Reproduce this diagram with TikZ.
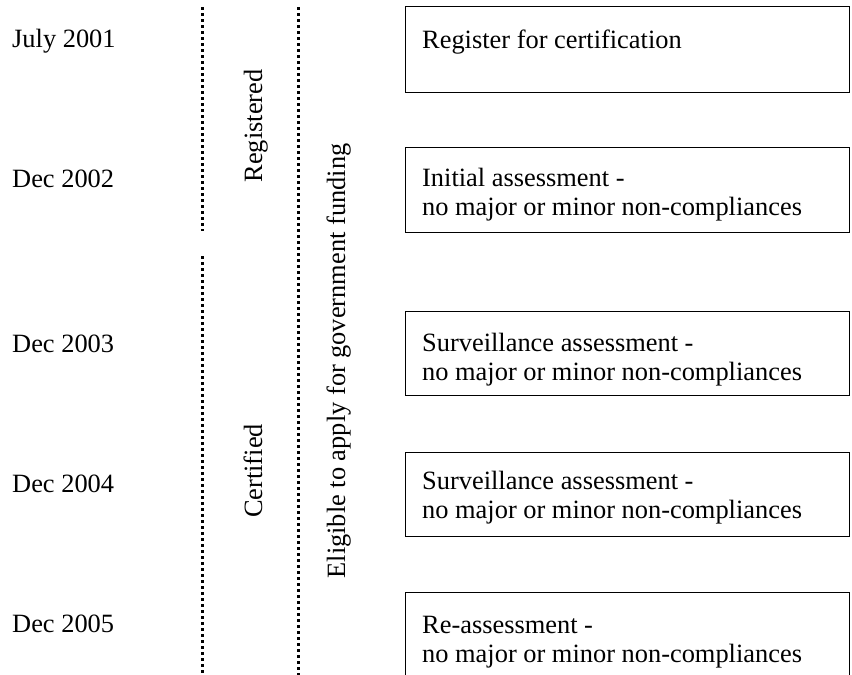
\documentclass[tikz,border=0pt]{standalone}
\usepackage{fontspec}
\setmainfont{Liberation Serif}
\usetikzlibrary{positioning}
\tikzset{
    stagebox/.style={rectangle, draw=black, line width=1.2pt, minimum width=444pt, inner sep=0pt, anchor=north west},
    stagetext/.style={anchor=base west, align=left, inner sep=0pt},
    datelabel/.style={anchor=base west, inner sep=0pt},
    phaselabel/.style={anchor=base, rotate=90, inner sep=0pt},
    dotline/.style={line width=3pt, dash pattern=on 3pt off 3pt}
}

\begin{document}
\begin{tikzpicture}[x=1pt, y=-1pt, font=\fontsize{26.4}{28.5}\selectfont]
    \clip (0,0) rectangle (852,675);

    % dates
    \node (d2001) [datelabel] at (12,47) {July 2001};
    \node (d2002) [datelabel] at (12,187) {Dec 2002};
    \node (d2003) [datelabel] at (12,352) {Dec 2003};
    \node (d2004) [datelabel] at (12,492) {Dec 2004};
    \node (d2005) [datelabel] at (12,632) {Dec 2005};

    % phase lines
    \coordinate (regtop) at (202,7);
    \coordinate (regend) at (202,231);
    \coordinate (certtop) at (202,256);
    \coordinate (certend) at (202,676);
    \coordinate (fundtop) at (298,7);
    \coordinate (fundend) at (298,676);
    \draw [dotline] (regtop) -- (regend);
    \draw [dotline] (certtop) -- (certend);
    \draw [dotline] (fundtop) -- (fundend);

    \node (registered) [phaselabel] at (262,126) {Registered};
    \node (certified) [phaselabel] at (262,471) {Certified};
    \node (funding) [phaselabel] at (345,361) {Eligible to apply for government funding};

    % stages (second line sets the base of two-line texts)
    \node (regbox) [stagebox, minimum height=86pt] at (405,6) {};
    \node (initbox) [stagebox, minimum height=85pt] at (405,147) {};
    \node (surv1box) [stagebox, minimum height=84pt] at (405,311) {};
    \node (surv2box) [stagebox, minimum height=84pt] at (405,452) {};
    \node (reassbox) [stagebox, minimum height=86pt] at (405,592) {};

    \node (regtext) [stagetext] at ([xshift=17pt, yshift=-42pt]regbox.north west) {Register for certification};
    \node (inittext) [stagetext] at ([xshift=17pt, yshift=-68pt]initbox.north west) {Initial assessment -\\no major or minor non-compliances};
    \node (surv1text) [stagetext] at ([xshift=17pt, yshift=-69pt]surv1box.north west) {Surveillance assessment -\\no major or minor non-compliances};
    \node (surv2text) [stagetext] at ([xshift=17pt, yshift=-66pt]surv2box.north west) {Surveillance assessment -\\no major or minor non-compliances};
    \node (reasstext) [stagetext] at ([xshift=17pt, yshift=-70pt]reassbox.north west) {Re-assessment -\\no major or minor non-compliances};
\end{tikzpicture}
\end{document}
